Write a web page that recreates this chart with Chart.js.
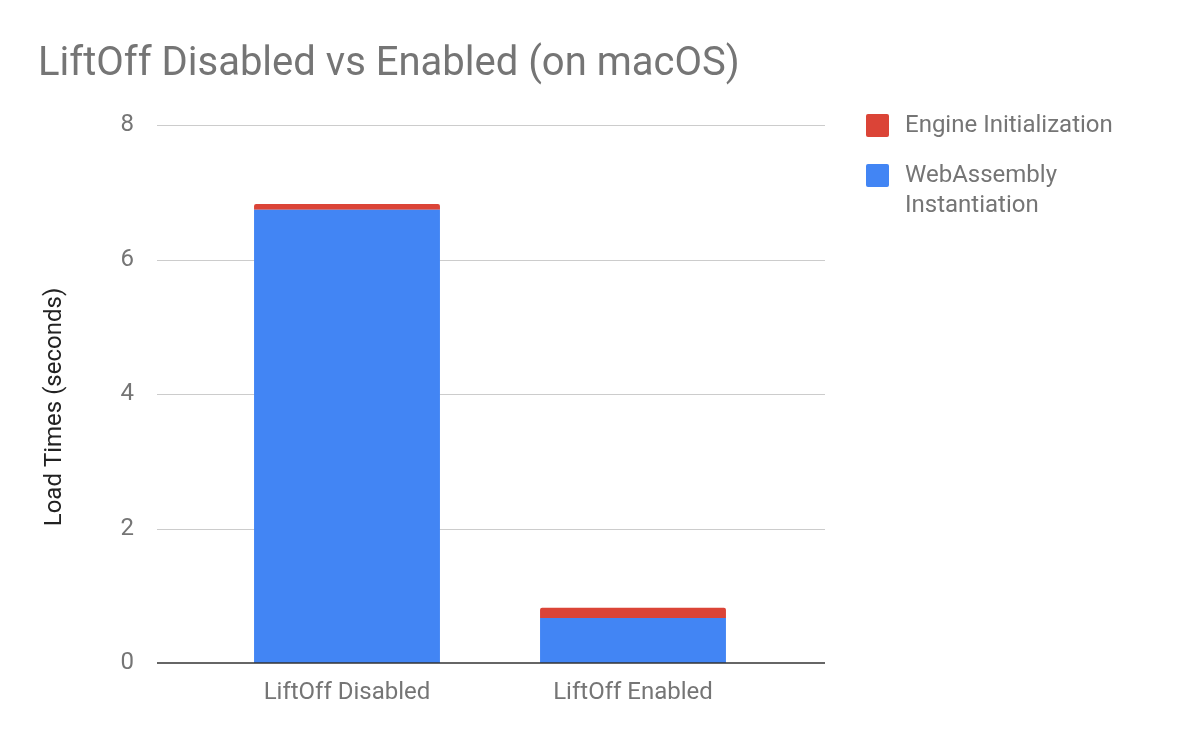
<!DOCTYPE html>
<html>
<head>
<meta charset="utf-8">
<script src="https://cdn.jsdelivr.net/npm/chart.js@4.4.1/dist/chart.umd.min.js"></script>
<style>
  html, body { margin: 0; padding: 0; background: #fff; }
  canvas { display: block; }
</style>
</head>
<body>
<canvas id="chart" width="1200" height="742"></canvas>
<script>
// chart data
const categories = ['LiftOff Disabled', 'LiftOff Enabled'];
const wasmInstantiation = [6.74, 0.67];
const engineInit = [0.085, 0.15];
const yTicks = [0, 2, 4, 6, 8];
const yTitle = 'Load Times (seconds)';

const grey = '#757575';
const font = 'Roboto, "Noto Sans", sans-serif';

// grid lines reach past the bars on both sides, like the original
const gridPlugin = {
    id: 'wideGrid',
    beforeDatasetsDraw(chart) {
        const y = chart.scales.y;
        const c = chart.ctx;
        c.save();
        c.strokeStyle = '#cccccc';
        c.lineWidth = 1;
        y.ticks.forEach(t => {
            if (t.value === 0) return;
            const py = Math.round(y.getPixelForValue(t.value)) + 0.5;
            c.beginPath();
            c.moveTo(157, py);
            c.lineTo(825, py);
            c.stroke();
        });
        c.restore();
    },
    afterDatasetsDraw(chart) {
        const y = chart.scales.y;
        const c = chart.ctx;
        const py = y.getPixelForValue(0);
        c.save();
        c.strokeStyle = '#333333';
        c.lineWidth = 1.5;
        c.beginPath();
        c.moveTo(157, py);
        c.lineTo(825, py);
        c.stroke();
        c.restore();
    }
};

// y axis title, centred a bit lower than the plot area like the original
const axisTitle = {
    id: 'axisTitle',
    afterDraw(chart) {
        const c = chart.ctx;
        c.save();
        c.font = '24px ' + font;
        c.fillStyle = '#222222';
        c.textAlign = 'center';
        c.textBaseline = 'middle';
        c.translate(55, 407);
        c.rotate(-Math.PI / 2);
        c.fillText(yTitle, 0, 0);
        c.restore();
    }
};

// legend on the right, items in reverse dataset order, text wrapped
const sideLegend = {
    id: 'sideLegend',
    afterDraw(chart) {
        const c = chart.ctx;
        c.save();
        c.font = '24px ' + font;
        c.textBaseline = 'middle';
        let top = 125;
        const sets = chart.data.datasets.slice().reverse();
        sets.forEach(ds => {
            // simple word wrap
            const words = ds.label.split(' ');
            const lines = [];
            let cur = '';
            words.forEach(w => {
                const test = cur ? cur + ' ' + w : w;
                if (c.measureText(test).width > 220 && cur) {
                    lines.push(cur);
                    cur = w;
                } else {
                    cur = test;
                }
            });
            lines.push(cur);

            c.fillStyle = ds.backgroundColor;
            c.beginPath();
            c.roundRect(866, top - 11, 23, 23, 2);
            c.fill();

            c.fillStyle = grey;
            lines.forEach((l, i) => c.fillText(l, 905, top + 1 + i * 30));
            top += 50 + (lines.length - 1) * 30;
        });
        c.restore();
    }
};

new Chart(document.getElementById('chart'), {
    type: 'bar',
    data: {
        labels: categories,
        datasets: [
            {
                label: 'WebAssembly Instantiation',
                data: wasmInstantiation,
                backgroundColor: '#4285f4',
                categoryPercentage: 1,
                barPercentage: 0.65
            },
            {
                label: 'Engine Initialization',
                data: engineInit,
                backgroundColor: '#db4437',
                borderRadius: { topLeft: 2, topRight: 2 },
                borderSkipped: 'bottom',
                categoryPercentage: 1,
                barPercentage: 0.65
            }
        ]
    },
    options: {
        responsive: false,
        animation: false,
        layout: { padding: { left: 38, right: 424, top: 0, bottom: 0 } },
        plugins: {
            legend: { display: false },
            tooltip: { enabled: false },
            title: {
                display: true,
                text: 'LiftOff Disabled vs Enabled (on macOS)',
                align: 'start',
                color: grey,
                font: { family: font, size: 40, weight: 'normal' },
                padding: { top: 41, bottom: 36 }
            }
        },
        scales: {
            x: {
                stacked: true,
                grid: { display: false },
                border: { display: false },
                ticks: {
                    color: grey,
                    font: { family: font, size: 24 },
                    padding: 8
                },
                afterFit: s => { s.height = 79; }
            },
            y: {
                stacked: true,
                min: 0,
                max: 8,
                afterBuildTicks: s => { s.ticks = yTicks.map(v => ({ value: v })); },
                grid: { display: false },
                border: { display: false },
                ticks: {
                    color: grey,
                    font: { family: font, size: 24 },
                    padding: 62
                },
                afterFit: s => { s.width = 166; }
            }
        }
    },
    plugins: [gridPlugin, axisTitle, sideLegend]
});
</script>
</body>
</html>
